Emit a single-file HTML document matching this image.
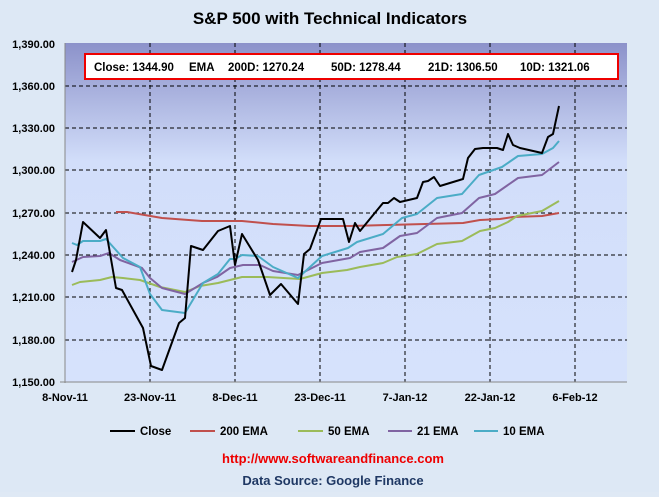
<!DOCTYPE html><html><head><style>body{margin:0;width:659px;height:492px;overflow:hidden;background:#dfe9f5;font-family:"Liberation Sans",sans-serif}</style></head><body>
<svg width="659" height="492" xmlns="http://www.w3.org/2000/svg" font-family="Liberation Sans, sans-serif">
<defs><linearGradient id="g" x1="0" y1="0" x2="0" y2="1"><stop offset="0" stop-color="#8c92ca"/><stop offset="0.35" stop-color="#d2defa"/><stop offset="1" stop-color="#d6e2fc"/></linearGradient></defs>
<rect width="659" height="492" fill="#dde8f5"/>
<text x="330" y="24" font-size="17" font-weight="bold" text-anchor="middle">S&amp;P 500 with Technical Indicators</text>
<rect x="65" y="43" width="562" height="339" fill="url(#g)"/>
<g stroke="#000" stroke-dasharray="4,3" stroke-width="1">
<line x1="65" x2="627" y1="86" y2="86"/><line x1="65" x2="627" y1="128" y2="128"/><line x1="65" x2="627" y1="170" y2="170"/><line x1="65" x2="627" y1="213" y2="213"/><line x1="65" x2="627" y1="255" y2="255"/><line x1="65" x2="627" y1="297" y2="297"/><line x1="65" x2="627" y1="340" y2="340"/>
<line y1="43" y2="382" x1="150" x2="150"/><line y1="43" y2="382" x1="235" x2="235"/><line y1="43" y2="382" x1="320" x2="320"/><line y1="43" y2="382" x1="405" x2="405"/><line y1="43" y2="382" x1="490" x2="490"/><line y1="43" y2="382" x1="575" x2="575"/>
</g>
<line x1="65" x2="65" y1="43" y2="383" stroke="#888"/><line x1="60" x2="627" y1="382" y2="382" stroke="#888"/>
<g font-size="11" font-weight="bold" text-anchor="end">
<text x="55" y="48">1,390.00</text><text x="55" y="90">1,360.00</text><text x="55" y="132">1,330.00</text><text x="55" y="174">1,300.00</text><text x="55" y="217">1,270.00</text><text x="55" y="259">1,240.00</text><text x="55" y="301">1,210.00</text><text x="55" y="344">1,180.00</text><text x="55" y="386">1,150.00</text>
</g>
<g font-size="11" font-weight="bold" text-anchor="middle">
<text x="65" y="401">8-Nov-11</text><text x="150" y="401">23-Nov-11</text><text x="235" y="401">8-Dec-11</text><text x="320" y="401">23-Dec-11</text><text x="405" y="401">7-Jan-12</text><text x="490" y="401">22-Jan-12</text><text x="575" y="401">6-Feb-12</text>
</g>
<g fill="none" stroke-width="2" stroke-linejoin="round">
<polyline stroke="#c0504d" points="116,212 127,212 162,218 202,221 242,221 273,224 310,226 350,226 387,225 463,223 480,220 500,219 513,217 542,216 559,213"/>
<polyline stroke="#9bbb59" points="72,285 80,282 100,280 112,277 123,278 140,280 160,287 185,292 200,286 218,283 242,277 267,277 300,279 322,273 347,270 360,267 383,263 397,257 417,254 437,244 462,241 480,231 495,228 508,222 517,216 542,211 559,201"/>
<polyline stroke="#8064a2" points="72,262 83,257 100,256 109,253 120,260 142,268 150,278 162,288 185,294 203,283 217,277 230,268 243,265 260,265 273,271 298,275 322,263 350,258 360,252 383,248 400,236 417,233 437,218 462,213 479,198 495,194 518,178 542,175 559,162"/>
<polyline stroke="#4bacc6" points="72,243 77,245 83,241 100,241 106,239 123,258 140,267 150,294 162,310 185,313 203,283 218,274 230,259 235,259 242,255 258,256 273,267 298,278 322,256 348,248 357,242 383,234 402,218 417,214 437,198 462,194 479,175 502,167 518,156 542,154 553,148 559,141"/>
<polyline stroke="#000" points="72,272 76,260 83,222 100,238 106,230 116,288 122,290 143,328 151,366 162,370 179,323 185,318 191,246 203,250 218,231 230,226 235,265 242,234 258,260 270,295 281,284 298,304 304,254 310,249 321,219 343,219 349,242 355,223 360,231 383,203 388,203 394,198 400,202 417,198 423,182 428,181 434,177 440,186 463,179 468,158 475,149 483,148 497,148 503,150 508,134 513,145 520,148 542,153 548,137 553,134 559,106"/>
</g>
<rect x="85" y="54" width="533" height="25" fill="#fff" stroke="#e00" stroke-width="2"/>
<g font-size="11.5" font-weight="bold"><text x="94" y="71">Close: 1344.90</text><text x="189" y="71">EMA</text><text x="228" y="71">200D: 1270.24</text><text x="331" y="71">50D: 1278.44</text><text x="428" y="71">21D: 1306.50</text><text x="520" y="71">10D: 1321.06</text></g>
<g stroke-width="2"><line x1="110" x2="135" y1="431" y2="431" stroke="#000"/><line x1="190" x2="215" y1="431" y2="431" stroke="#c0504d"/><line x1="298" x2="323" y1="431" y2="431" stroke="#9bbb59"/><line x1="388" x2="412" y1="431" y2="431" stroke="#8064a2"/><line x1="474" x2="498" y1="431" y2="431" stroke="#4bacc6"/></g>
<g font-size="11.5" font-weight="bold"><text x="140" y="435">Close</text><text x="220" y="435">200 EMA</text><text x="328" y="435">50 EMA</text><text x="417" y="435">21 EMA</text><text x="503" y="435">10 EMA</text></g>
<text x="333" y="463" font-size="13" font-weight="bold" fill="#e00" text-anchor="middle">http://www.softwareandfinance.com</text>
<text x="333" y="485" font-size="13" font-weight="bold" fill="#1f3864" text-anchor="middle">Data Source: Google Finance</text>
</svg></body></html>
